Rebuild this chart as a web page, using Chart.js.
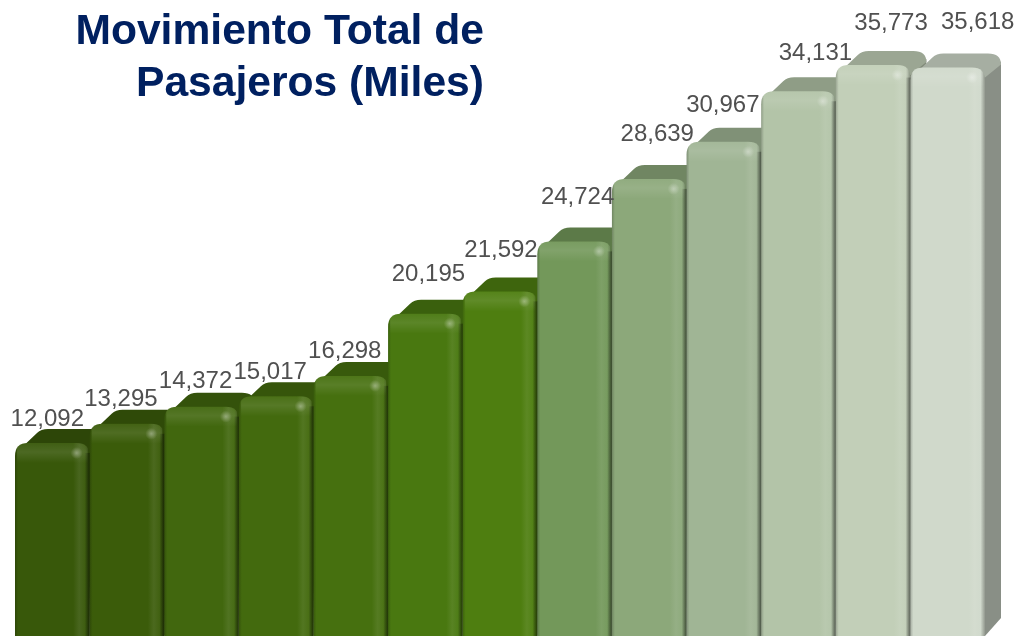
<!DOCTYPE html>
<html>
<head>
<meta charset="utf-8">
<style>
html, body { margin: 0; padding: 0; background: #fff; }
#wrap { position: relative; width: 1020px; height: 636px; overflow: hidden; }
#title {
    position: absolute; right: 536px; top: 3px; text-align: right;
    font: bold 42.6px/52px "Liberation Sans", Arial, sans-serif; color: #002060;
    white-space: nowrap;
}
</style>
</head>
<body>
<div id="wrap">
    <canvas id="chart" width="1020" height="636"></canvas>
    <div id="title">Movimiento Total de<br>Pasajeros (Miles)</div>
</div>
<script src="https://cdn.jsdelivr.net/npm/chart.js@4"></script>
<script>
const categories = ['1', '2', '3', '4', '5', '6', '7', '8', '9', '10', '11', '12', '13'];
const passengers = [12092, 13295, 14372, 15017, 16298, 20195, 21592, 24724, 28639, 30967, 34131, 35773, 35618];
const barColors = ['#38580a', '#3b5c0a', '#41670e', '#436a0e', '#46700f', '#497810', '#4e7e10',
    '#73985a', '#8ca87a', '#a0b595', '#b3c4a8', '#c2cfb8', '#d0d9cb'];

// label offsets from the bar's top centre
const labelDx = [-5, -6, -6, -6, -6, 3, 1, 3, 8, -1, 17, 18, 30];
const labelDy = [-24, -24, -25, -24, -25, -39, -41, -44, -45, -36, -38, -42, -45];

// mix a hex colour towards black (amt < 0) or white (amt > 0)
function shade(hex, amt) {
    const n = parseInt(hex.slice(1), 16);
    const target = amt < 0 ? 0 : 255;
    const a = Math.abs(amt);
    const c = [n >> 16, (n >> 8) & 255, n & 255].map(v => Math.round(v + (target - v) * a));
    return `rgb(${c[0]},${c[1]},${c[2]})`;
}

function drawBar(ctx, bar, prev, color) {
    const x0 = bar.x - bar.width / 2;
    const x1 = bar.x + bar.width / 2;
    const y = bar.y;
    const base = bar.base;
    const r = 13;

    // side face
    ctx.fillStyle = shade(color, -0.34);
    ctx.beginPath();
    ctx.moveTo(x1 - 2, y + 4);
    ctx.lineTo(x1 + 16, y - 6);
    ctx.lineTo(x1 + 16, base - 18);
    ctx.lineTo(x1, base);
    ctx.closePath();
    ctx.fill();

    // top face
    ctx.fillStyle = shade(color, -0.2);
    ctx.beginPath();
    ctx.moveTo(x0 + 2, y + 9);
    ctx.lineTo(x0 + 22, y - 10);
    ctx.quadraticCurveTo(x0 + 26, y - 14, x0 + 33, y - 14);
    ctx.lineTo(x1 + 3, y - 14);
    ctx.quadraticCurveTo(x1 + 16, y - 14, x1 + 16, y - 3);
    ctx.lineTo(x1, y + 10);
    ctx.closePath();
    ctx.fill();

    // soft shadow on the bar before it, only where that bar is actually behind
    if (prev) {
        const shadowTop = Math.max(y, prev.y) + 10;
        const shadow = ctx.createLinearGradient(x0 - 5, 0, x0 + 1, 0);
        shadow.addColorStop(0, 'rgba(0,0,0,0)');
        shadow.addColorStop(1, 'rgba(0,0,0,0.4)');
        ctx.fillStyle = shadow;
        ctx.fillRect(x0 - 5, shadowTop, 6, base - shadowTop);
    }

    // front face
    const body = ctx.createLinearGradient(x0, 0, x1, 0);
    body.addColorStop(0, shade(color, -0.2));
    body.addColorStop(0.04, color);
    body.addColorStop(0.78, color);
    body.addColorStop(0.86, shade(color, 0.08));
    body.addColorStop(0.94, shade(color, 0.03));
    body.addColorStop(1, shade(color, -0.3));
    const front = new Path2D();
    front.moveTo(x0, base);
    front.lineTo(x0, y + r);
    front.quadraticCurveTo(x0, y, x0 + r, y);
    front.lineTo(x1 - r, y);
    front.quadraticCurveTo(x1, y, x1, y + r);
    front.lineTo(x1, base);
    front.closePath();
    ctx.fillStyle = body;
    ctx.fill(front);

    ctx.save();
    ctx.clip(front);
    // bevel along the top edge, fades out downwards
    const bevel = ctx.createLinearGradient(0, y, 0, y + 20);
    bevel.addColorStop(0, 'rgba(255,255,255,0.04)');
    bevel.addColorStop(0.45, 'rgba(255,255,255,0.1)');
    bevel.addColorStop(1, 'rgba(255,255,255,0)');
    ctx.fillStyle = bevel;
    ctx.fillRect(x0 + 2, y, bar.width - 4, 20);
    // small highlight at the right corner
    const spot = ctx.createRadialGradient(x1 - 13, y + 10, 0, x1 - 13, y + 10, 6);
    spot.addColorStop(0, 'rgba(255,255,255,0.35)');
    spot.addColorStop(1, 'rgba(255,255,255,0)');
    ctx.fillStyle = spot;
    ctx.fillRect(x1 - 20, y + 3, 14, 14);
    ctx.restore();
}

const bars3d = {
    id: 'bars3d',
    // the bars are painted here in order, so each one overlaps the one before it
    beforeDatasetDraw(chart) {
        const ctx = chart.ctx;
        const meta = chart.getDatasetMeta(0);
        ctx.save();
        meta.data.forEach((bar, i) => drawBar(ctx, bar, meta.data[i - 1], barColors[i]));
        ctx.font = '24px "Liberation Sans", Arial, sans-serif';
        ctx.fillStyle = '#505050';
        ctx.textAlign = 'center';
        ctx.textBaseline = 'middle';
        meta.data.forEach((bar, i) => {
            ctx.fillText(passengers[i].toLocaleString('en-US'), bar.x + labelDx[i], bar.y + labelDy[i]);
        });
        ctx.restore();
        return false;
    }
};

new Chart(document.getElementById('chart').getContext('2d'), {
    type: 'bar',
    data: {
        labels: categories,
        datasets: [{
            data: passengers,
            backgroundColor: barColors,
            barPercentage: 1,
            categoryPercentage: 1
        }]
    },
    options: {
        responsive: false,
        animation: false,
        layout: { padding: { left: 15, right: 35, top: 0, bottom: 0 } },
        plugins: { legend: { display: false }, tooltip: { enabled: false } },
        scales: {
            x: { display: false },
            y: { display: false, min: 0, max: 39850 }
        }
    },
    plugins: [bars3d]
});
</script>
</body>
</html>
